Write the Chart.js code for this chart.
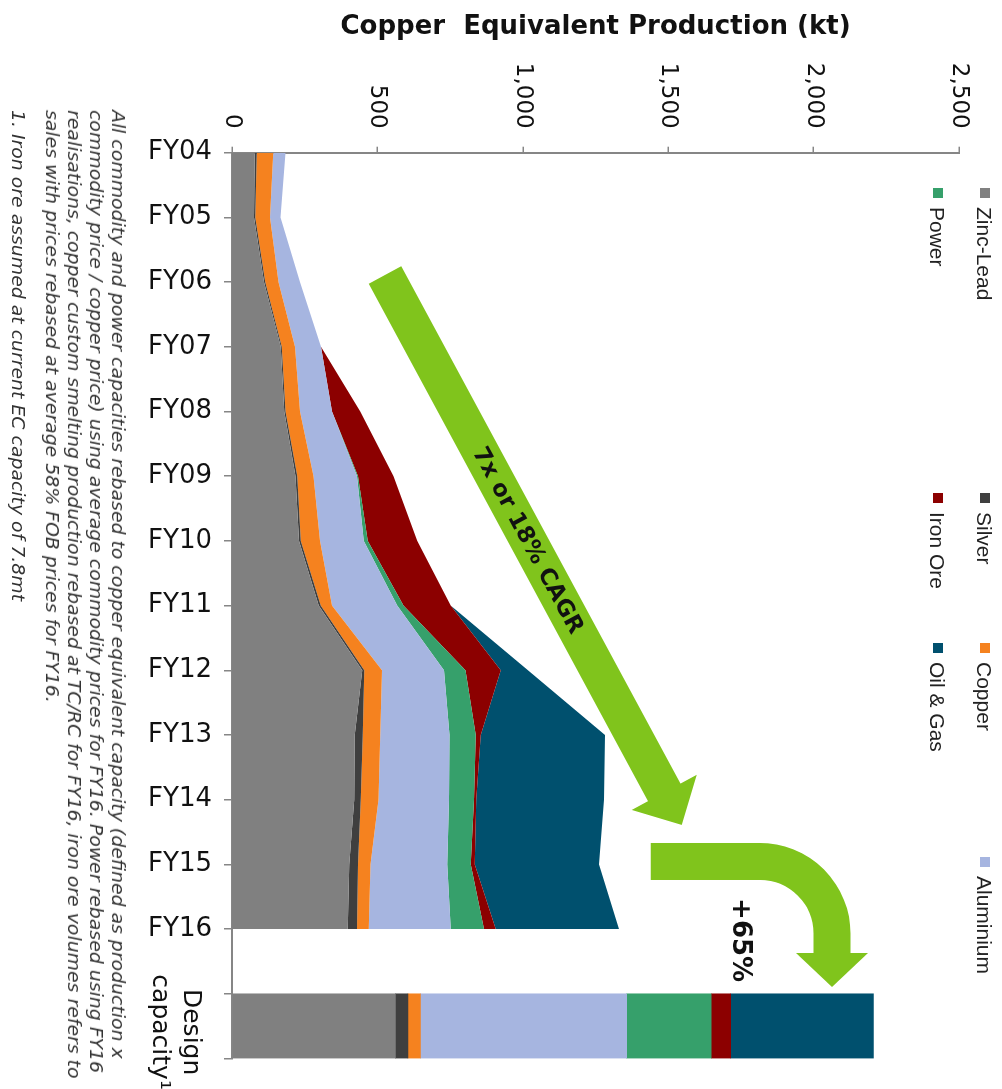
<!DOCTYPE html>
<html>
<head>
<meta charset="utf-8">
<script src="https://cdn.jsdelivr.net/npm/chart.js@4"></script>
<style>
  html, body { margin: 0; padding: 0; background: #fff; overflow: hidden; }
  body { width: 1002px; height: 1089px; position: relative; }
  /* the chart is laid out landscape, then turned a quarter clockwise like the slide */
  #frame { position: absolute; left: 0; top: 0; width: 1089px; height: 1002px;
           transform-origin: 0 0; transform: translateX(1002px) rotate(90deg); }
  #frame canvas { position: absolute; left: 0; top: 0; }
  .lg { position: absolute; font: 21px "Liberation Sans", Arial, sans-serif; color: #222;
        white-space: nowrap; line-height: 24px; }
  .lg i { display: inline-block; width: 10px; height: 10px; margin-right: 9px; vertical-align: 3px; }
  #notes { position: absolute; left: 110px; top: 0; transform-origin: 0 0; }
  #notes div { position: absolute; left: 0; white-space: nowrap; color: #333;
               font: italic 17px "DejaVu Sans Condensed", "DejaVu Sans", sans-serif; line-height: 20px; }
</style>
</head>
<body>
<div id="frame">
  <canvas id="chart" width="1089" height="1002"></canvas>
  <div id="legend"></div>
  <div id="notes"></div>
</div>
<script>
const years = ['FY04', 'FY05', 'FY06', 'FY07', 'FY08', 'FY09', 'FY10', 'FY11', 'FY12', 'FY13', 'FY14', 'FY15', 'FY16'];
const capacityLabel = ['Design', 'capacity\u00b9'];
const seriesNames = ['Zinc-Lead', 'Silver', 'Copper', 'Aluminium', 'Power', 'Iron Ore', 'Oil & Gas'];
const seriesColors = ['#808080', '#3f3f3f', '#f5821f', '#a6b5e0', '#36a06b', '#8c0000', '#00506e'];

// kt copper equivalent, FY04..FY16
const zincLead  = [78, 76, 110, 168, 180, 218, 230, 298, 448, 422, 420, 403, 398];
const silver    = [7, 4, 4, 3, 4, 6, 6, 7, 7, 28, 23, 30, 32];
const copper    = [57, 51, 46, 46, 50, 56, 67, 39, 61, 60, 61, 43, 40];
const aluminium = [42, 36, 74, 89, 110, 150, 150, 224, 213, 238, 242, 264, 282];
const power     = [0, 0, 0, 0, 0, 3, 14, 22, 74, 90, 86, 81, 115];
const ironOre   = [0, 0, 0, 0, 97, 122, 170, 162, 121, 17, 8, 14, 40];
const oilGas    = [0, 0, 0, 0, 0, 0, 0, 0, 94, 428, 439, 427, 424];
// design capacity bar, same series order
const designCapacity = [562, 43, 43, 709, 291, 67, 491];

const footnotes = [
  'All commodity and power capacities rebased to copper equivalent capacity (defined as production x',
  'commodity price / copper price) using average commodity prices for FY16. Power rebased using FY16',
  'realisations, copper custom smelting production rebased at TC/RC for FY16, iron ore volumes refers to',
  'sales with prices rebased at average 58% FOB prices for FY16.',
  '1. Iron ore assumed at current EC capacity of 7.8mt'
];

const capacityPos = 13.5;
const green = '#80c41c';
// annotation anchors in data units [x position, kt]
const cagrArrow = { from: [1.89, 526], to: [10.39, 1547], text: '7x or 18% CAGR', at: [5.99, 1018] };
const growthArrow = { from: [10.955, 1440], to: [12.895, 2063], text: '+65%', at: [12.17, 1747] };

const areaSeries = [zincLead, silver, copper, aluminium, power, ironOre, oilGas];

const datasets = areaSeries.map((vals, k) => ({
  type: 'line',
  label: seriesNames[k],
  stack: 'history',
  data: vals.map((v, i) => ({ x: i, y: v })),
  backgroundColor: seriesColors[k],
  borderColor: 'transparent',
  borderWidth: 0,
  pointRadius: 0,
  tension: 0,
  fill: k === 0 ? 'origin' : '-1'
})).concat(designCapacity.map((v, k) => ({
  type: 'bar',
  label: seriesNames[k],
  stack: 'design',
  data: [{ x: capacityPos, y: v }],
  backgroundColor: seriesColors[k],
  borderWidth: 0,
  barPercentage: 1,
  categoryPercentage: 1
})));

function drawArrow(ctx, p0, p1, half, headHalf, headLen) {
  const dx = p1.x - p0.x, dy = p1.y - p0.y, len = Math.hypot(dx, dy);
  const ux = dx / len, uy = dy / len, nx = -uy, ny = ux;
  const bx = p1.x - ux * headLen, by = p1.y - uy * headLen;
  ctx.beginPath();
  ctx.moveTo(p0.x + nx * half, p0.y + ny * half);
  ctx.lineTo(bx + nx * half, by + ny * half);
  ctx.lineTo(bx + nx * headHalf, by + ny * headHalf);
  ctx.lineTo(p1.x, p1.y);
  ctx.lineTo(bx - nx * headHalf, by - ny * headHalf);
  ctx.lineTo(bx - nx * half, by - ny * half);
  ctx.lineTo(p0.x - nx * half, p0.y - ny * half);
  ctx.closePath();
  ctx.fill();
}

const annotations = {
  id: 'annotations',
  afterDraw(chart) {
    const { ctx, scales: { x, y } } = chart;
    const px = (p) => ({ x: x.getPixelForValue(p[0]), y: y.getPixelForValue(p[1]) });
    ctx.save();

    // category label under the design capacity bar (kept level, unlike FY ticks)
    ctx.fillStyle = '#111';
    ctx.font = '25px "DejaVu Sans", sans-serif';
    ctx.textAlign = 'center';
    ctx.textBaseline = 'middle';
    const cx = x.getPixelForValue(capacityPos) + 6;
    ctx.fillText(capacityLabel[0], cx, y.bottom + 41);
    ctx.fillText(capacityLabel[1], cx, y.bottom + 72);

    // straight growth arrow
    ctx.fillStyle = green;
    const a0 = px(cagrArrow.from), a1 = px(cagrArrow.to);
    drawArrow(ctx, a0, a1, 18.5, 37, 37);
    const at = px(cagrArrow.at);
    ctx.save();
    ctx.translate(at.x, at.y);
    ctx.rotate(Math.atan2(a1.y - a0.y, a1.x - a0.x));
    ctx.fillStyle = '#111';
    ctx.font = 'bold 23px "DejaVu Sans", sans-serif';
    ctx.fillText(cagrArrow.text, 0, 1);
    ctx.restore();

    // bent arrow towards design capacity
    const s = px(growthArrow.from), t = px(growthArrow.to);
    const r = 72, headLen = 34, headHalf = 36;
    ctx.strokeStyle = green;
    ctx.lineWidth = 37;
    ctx.lineCap = 'butt';
    ctx.beginPath();
    ctx.moveTo(s.x, s.y);
    ctx.lineTo(s.x, t.y + r);
    ctx.arc(s.x + r, t.y + r, r, Math.PI, 1.5 * Math.PI);
    ctx.lineTo(t.x - headLen, t.y);
    ctx.stroke();
    ctx.beginPath();
    ctx.moveTo(t.x - headLen, t.y - headHalf);
    ctx.lineTo(t.x, t.y);
    ctx.lineTo(t.x - headLen, t.y + headHalf);
    ctx.closePath();
    ctx.fill();
    const gt = px(growthArrow.at);
    ctx.fillStyle = '#111';
    ctx.font = 'bold 26px "DejaVu Sans", sans-serif';
    ctx.fillText(growthArrow.text, gt.x, gt.y);

    ctx.restore();
  }
};

new Chart(document.getElementById('chart'), {
  type: 'line',
  data: { datasets },
  options: {
    responsive: false,
    animation: false,
    layout: { padding: { top: 43, right: 30.5, bottom: 0, left: 0 } },
    plugins: { legend: { display: false }, tooltip: { enabled: false } },
    scales: {
      x: {
        type: 'linear',
        min: 0,
        max: 14,
        offset: false,
        afterBuildTicks: (scale) => {
          scale.ticks = Array.from({ length: 15 }, (_, i) => ({ value: i }));
        },
        afterFit: (scale) => {
          scale.height = 232;
          scale.paddingLeft = 0;
          scale.paddingRight = 0;
        },
        ticks: {
          autoSkip: false,
          minRotation: 90,
          maxRotation: 90,
          padding: 12,
          color: '#111',
          font: { family: '"DejaVu Sans", sans-serif', size: 26 },
          callback: (value) => years[value] ?? ''
        },
        grid: { offset: false, drawOnChartArea: false, drawTicks: true, tickLength: 8, color: '#868686', lineWidth: 1.5 },
        border: { display: true, color: '#868686', width: 2 }
      },
      y: {
        stacked: true,
        min: 0,
        max: 2500,
        afterFit: (scale) => { scale.width = 152.7; },
        ticks: {
          stepSize: 500,
          padding: 18,
          color: '#111',
          font: { family: '"DejaVu Sans", sans-serif', size: 23 }
        },
        title: {
          display: true,
          text: 'Copper  Equivalent Production (kt)',
          color: '#111',
          font: { family: '"DejaVu Sans", sans-serif', size: 26, weight: 'bold' },
          padding: { top: 12, bottom: 0 }
        },
        grid: { drawOnChartArea: false, drawTicks: true, tickLength: 6, color: '#868686', lineWidth: 1.5 },
        border: { display: true, color: '#868686', width: 2 }
      }
    }
  },
  plugins: [annotations]
});

// legend: two rows across the top, four slots per row
const legendSlots = [[188, 18], [493, 18], [643, 18], [857, 18], [188, 65], [493, 65], [643, 65]];
const legend = document.getElementById('legend');
seriesNames.forEach((name, k) => {
  const item = document.createElement('div');
  item.className = 'lg';
  item.style.left = legendSlots[k][0] + 'px';
  item.style.top = (legendSlots[k][1] - 12) + 'px';
  const box = document.createElement('i');
  box.style.background = seriesColors[k];
  item.appendChild(box);
  item.appendChild(document.createTextNode(name));
  legend.appendChild(item);
});

// footnotes along the bottom edge
const noteCentres = [884, 906, 928, 950, 984];
const notes = document.getElementById('notes');
footnotes.forEach((text, i) => {
  const line = document.createElement('div');
  line.textContent = text;
  line.style.top = (noteCentres[i] - 10) + 'px';
  notes.appendChild(line);
});
const widest = Math.max(...Array.from(notes.children, (d) => d.offsetWidth));
notes.style.transform = 'scaleX(' + (968 / widest) + ')';
</script>
</body>
</html>
